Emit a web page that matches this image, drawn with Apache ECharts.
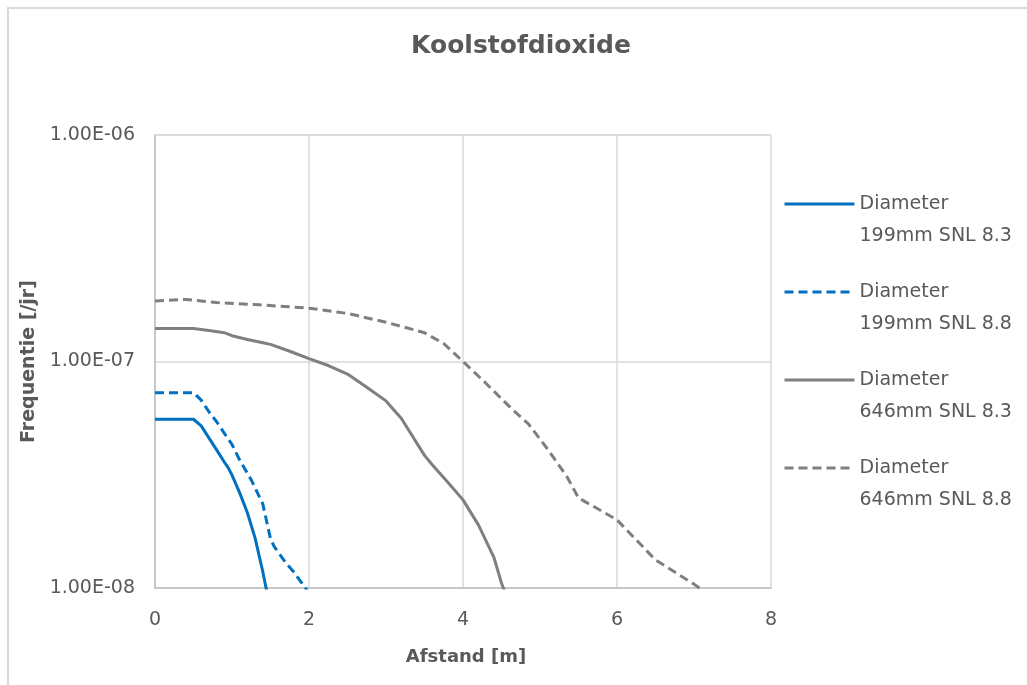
<!DOCTYPE html>
<html>
<head>
<meta charset="utf-8">
<script src="https://cdn.jsdelivr.net/npm/echarts@6/dist/echarts.min.js"></script>
<style>
  html, body { margin: 0; padding: 0; background: #fff; }
  #chart { width: 1027px; height: 685px; }
</style>
</head>
<body>
<div id="chart"></div>
<script>
// Frequency versus distance, [afstand (m), frequentie (/jr)]
const d199_83 = [[0, 5.56e-8], [0.5, 5.56e-8], [0.6, 5.2e-8], [0.7, 4.6e-8], [0.8, 4.07e-8], [0.9, 3.6e-8], [0.95, 3.4e-8], [1.0, 3.15e-8], [1.1, 2.63e-8], [1.2, 2.15e-8], [1.3, 1.66e-8], [1.4, 1.18e-8], [1.5, 8.0e-9]];
const d199_88 = [[0, 7.28e-8], [0.5, 7.28e-8], [0.6, 6.75e-8], [0.7, 6.0e-8], [0.8, 5.42e-8], [1.0, 4.3e-8], [1.1, 3.67e-8], [1.25, 3.0e-8], [1.4, 2.35e-8], [1.5, 1.65e-8], [1.55, 1.52e-8], [1.7, 1.29e-8], [1.8, 1.18e-8], [2.0, 9.5e-9]];
const d646_83 = [[0, 1.40e-7], [0.5, 1.40e-7], [0.7, 1.37e-7], [0.9, 1.34e-7], [1.0, 1.30e-7], [1.2, 1.25e-7], [1.4, 1.21e-7], [1.5, 1.19e-7], [1.75, 1.11e-7], [2.0, 1.03e-7], [2.25, 9.6e-8], [2.5, 8.8e-8], [2.75, 7.7e-8], [3.0, 6.7e-8], [3.2, 5.6e-8], [3.5, 3.85e-8], [3.6, 3.5e-8], [3.8, 2.94e-8], [4.0, 2.45e-8], [4.2, 1.9e-8], [4.4, 1.37e-8], [4.5, 1.05e-8], [4.55, 9.5e-9]];
const d646_88 = [[0, 1.85e-7], [0.4, 1.88e-7], [0.8, 1.82e-7], [1.35, 1.78e-7], [2.0, 1.72e-7], [2.5, 1.63e-7], [3.0, 1.49e-7], [3.5, 1.34e-7], [3.75, 1.2e-7], [4.0, 1.0e-7], [4.3, 8.0e-8], [4.65, 6.1e-8], [4.85, 5.3e-8], [5.1, 4.1e-8], [5.35, 3.1e-8], [5.5, 2.5e-8], [6.0, 2.0e-8], [6.5, 1.33e-8], [7.0, 1.04e-8], [7.2, 9.3e-9]];

const seriesNames = ['Diameter\n199mm SNL 8.3', 'Diameter\n199mm SNL 8.8', 'Diameter\n646mm SNL 8.3', 'Diameter\n646mm SNL 8.8'];
const xTicks = { min: 0, max: 8, interval: 2 };
const yTicks = { min: 1e-8, max: 1e-6 };

const BLUE = '#0070C0';
const GRAY = '#7F7F7F';
const TEXT = '#595959';
const FONT = 'DejaVu Sans';

// 1e-7 -> "1.00E-07"
function sci(v) {
  const e = Math.round(Math.log10(v));
  const m = v / Math.pow(10, e);
  const sign = e < 0 ? '-' : '+';
  const ae = Math.abs(e);
  return m.toFixed(2) + 'E' + sign + (ae < 10 ? '0' : '') + ae;
}

function lineSeries(name, data, color, dashed) {
  return {
    name: name,
    type: 'line',
    data: data,
    symbol: 'none',
    clip: true,
    lineStyle: { color: color, width: 3, type: dashed ? [9, 5] : 'solid', cap: 'butt' },
    itemStyle: { color: color },
    emphasis: { disabled: true }
  };
}

const chart = echarts.init(document.getElementById('chart'), null, { renderer: 'canvas' });
chart.setOption({
  animation: false,
  backgroundColor: '#ffffff',
  graphic: [
    {
      type: 'rect',
      shape: { x: 8, y: 8, width: 1040, height: 700 },
      style: { fill: 'none', stroke: '#D9D9D9', lineWidth: 2 },
      silent: true
    },
    {
      type: 'text',
      x: 521,
      y: 46,
      style: {
        text: 'Koolstofdioxide',
        font: 'bold 25px "' + FONT + '"',
        fill: TEXT,
        textAlign: 'center',
        textVerticalAlign: 'middle'
      },
      silent: true
    }
  ],
  grid: { left: 155, top: 135, right: 256, bottom: 97, containLabel: false },
  legend: {
    orient: 'vertical',
    left: 783,
    top: 156,
    padding: 0,
    itemGap: -8,
    itemWidth: 70,
    itemHeight: 14,
    itemStyle: { opacity: 0 },
    lineStyle: { width: 3 },
    selectedMode: false,
    // blank first line keeps the icon level with "Diameter"
    formatter: function (name) { return ' \n' + name; },
    textStyle: {
      color: TEXT,
      fontFamily: FONT,
      fontSize: 19,
      lineHeight: 32
    },
    data: seriesNames
  },
  xAxis: {
    type: 'value',
    min: xTicks.min,
    max: xTicks.max,
    interval: xTicks.interval,
    name: 'Afstand [m]',
    nameLocation: 'middle',
    nameGap: 60,
    nameTextStyle: { color: TEXT, fontFamily: FONT, fontSize: 18, fontWeight: 'bold', padding: [0, 0, 0, 6] },
    axisLine: { show: true, lineStyle: { color: '#BFBFBF', width: 1.5 } },
    axisTick: { show: false },
    axisLabel: { color: TEXT, fontFamily: FONT, fontSize: 19, margin: 23 },
    splitLine: { show: true, lineStyle: { color: '#D9D9D9', width: 1.5 } }
  },
  yAxis: {
    type: 'log',
    logBase: 10,
    min: yTicks.min,
    max: yTicks.max,
    name: 'Frequentie [/jr]',
    nameLocation: 'middle',
    nameGap: 114,
    nameTextStyle: { color: TEXT, fontFamily: FONT, fontSize: 19, fontWeight: 'bold' },
    axisLine: { show: true, lineStyle: { color: '#BFBFBF', width: 1.5 } },
    axisTick: { show: false },
    minorTick: { show: false },
    axisLabel: { color: TEXT, fontFamily: FONT, fontSize: 19, margin: 20, formatter: sci },
    splitLine: { show: true, lineStyle: { color: '#D9D9D9', width: 1.5 } }
  },
  series: [
    lineSeries(seriesNames[0], d199_83, BLUE, false),
    lineSeries(seriesNames[1], d199_88, BLUE, true),
    lineSeries(seriesNames[2], d646_83, GRAY, false),
    lineSeries(seriesNames[3], d646_88, GRAY, true)
  ]
});
</script>
</body>
</html>
